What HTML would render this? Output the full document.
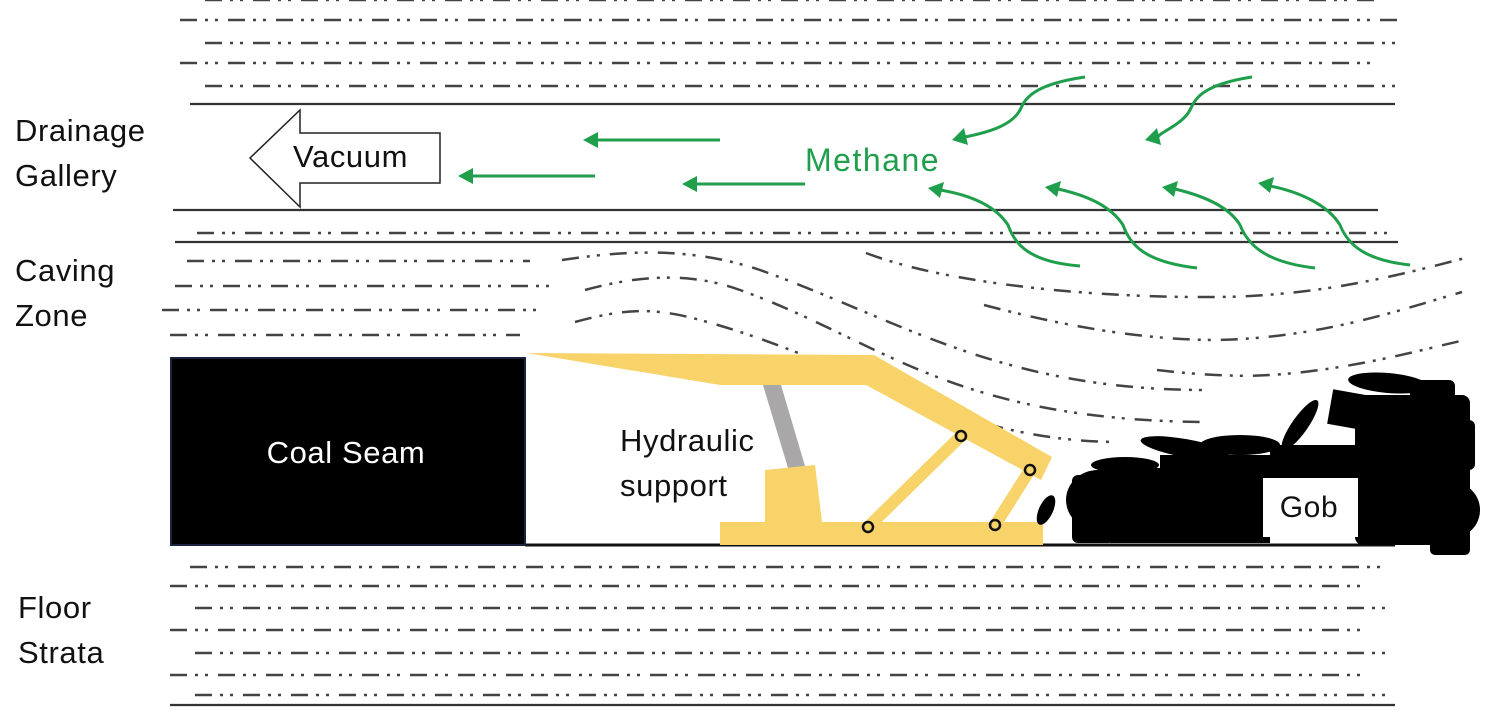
<!DOCTYPE html>
<html><head><meta charset="utf-8"><style>
html,body{margin:0;padding:0;background:#fff;}
svg{display:block;}
text{font-family:"Liberation Sans",sans-serif;letter-spacing:0.6px;}
</style></head><body>
<svg width="1486" height="721" viewBox="0 0 1486 721" xmlns="http://www.w3.org/2000/svg">
<g stroke="#444" stroke-width="2.5" fill="none" stroke-dasharray="17 8 3 7 3 10">
<line x1="205" y1="0" x2="1380" y2="0"/>
<line x1="180" y1="20" x2="1400" y2="20"/>
<line x1="205" y1="43" x2="1400" y2="43"/>
<line x1="180" y1="63" x2="1380" y2="63"/>
<line x1="205" y1="86" x2="1400" y2="86"/>
<line x1="197" y1="233" x2="1397" y2="233"/>
<line x1="187" y1="261" x2="530" y2="261"/>
<line x1="175" y1="286" x2="550" y2="286"/>
<line x1="162" y1="310" x2="545" y2="310"/>
<line x1="170" y1="335" x2="520" y2="335"/>
<line x1="190" y1="567" x2="1390" y2="567"/>
<line x1="170" y1="586" x2="1370" y2="586"/>
<line x1="195" y1="608" x2="1395" y2="608"/>
<line x1="170" y1="630" x2="1370" y2="630"/>
<line x1="195" y1="653" x2="1395" y2="653"/>
<line x1="170" y1="675" x2="1370" y2="675"/>
<line x1="195" y1="695" x2="1395" y2="695"/>
<path d="M562 260 C640 248 700 250 760 270 C900 320 1000 390 1205 390"/>
<path d="M585 290 C640 275 690 272 740 290 C880 340 950 420 1205 422"/>
<path d="M575 322 C620 310 650 306 700 320 C850 360 950 440 1115 442"/>
<path d="M866 253 C950 285 1100 298 1217 297 C1320 296 1400 275 1465 258"/>
<path d="M984 305 C1060 325 1140 340 1217 340 C1320 338 1400 310 1462 292"/>
<path d="M1157 370 C1200 375 1240 377 1270 375 C1350 370 1420 350 1465 340"/>
</g>
<g stroke="#333" stroke-width="2.2">
<line x1="190" y1="104" x2="1395" y2="104"/>
<line x1="173" y1="210" x2="1378" y2="210"/>
<line x1="175" y1="242" x2="1398" y2="242"/>
<line x1="170" y1="705" x2="1395" y2="705"/>
</g>
<line x1="525" y1="545" x2="1395" y2="545" stroke="#111" stroke-width="3"/>
<path d="M250 158 L300 110 L300 133 L440 133 L440 183 L300 183 L300 207 Z" fill="#fff" stroke="#222" stroke-width="1.5"/>
<text x="293" y="167" font-size="31" fill="#111">Vacuum</text>
<g font-size="31" fill="#111">
<text x="15" y="141">Drainage</text>
<text x="15" y="186">Gallery</text>
<text x="15" y="281">Caving</text>
<text x="15" y="326">Zone</text>
<text x="18" y="618">Floor</text>
<text x="18" y="663">Strata</text>
</g>
<rect x="171" y="358" width="354" height="187" fill="#000" stroke="#1b2340" stroke-width="2"/>
<text x="346" y="463" font-size="31" fill="#fff" text-anchor="middle">Coal Seam</text>
<polygon points="763,385 781,385 805,466 788,468" fill="#aaa7a8"/>
<polygon points="527,353 874,355 1052,457 1041,480 866,385 720,385" fill="#f8d36a"/>
<polygon points="765,470 815,465 823,530 765,530" fill="#f8d36a"/>
<rect x="720" y="522" width="323" height="23" fill="#f8d36a"/>
<g stroke="#f8d36a" stroke-width="12" stroke-linecap="round">
<line x1="961" y1="436" x2="868" y2="527"/>
<line x1="1030" y1="470" x2="995" y2="525"/>
</g>
<g fill="#f8d36a" stroke="#111" stroke-width="2.5">
<circle cx="961" cy="436" r="5"/>
<circle cx="1030" cy="470" r="5"/>
<circle cx="868" cy="527" r="5"/>
<circle cx="995" cy="525" r="5"/>
</g>
<text x="620" y="451" font-size="31" fill="#111">Hydraulic</text>
<text x="620" y="496" font-size="31" fill="#111">support</text>
<g fill="#000">
<ellipse cx="1046" cy="510" rx="7" ry="16" transform="rotate(25 1046 510)"/>
<rect x="1072" y="475" width="42" height="68" rx="6"/>
<ellipse cx="1125" cy="465" rx="34" ry="8"/>
<rect x="1110" y="468" width="50" height="75"/>
<ellipse cx="1185" cy="448" rx="45" ry="9" transform="rotate(10 1185 448)"/>
<rect x="1160" y="455" width="110" height="88"/>
<ellipse cx="1240" cy="445" rx="40" ry="10"/>
<ellipse cx="1300" cy="425" rx="30" ry="8" transform="rotate(-55 1300 425)"/>
<rect x="1270" y="445" width="85" height="35"/>
<rect x="1330" y="392" width="35" height="35" transform="rotate(10 1347 409)"/>
<ellipse cx="1388" cy="383" rx="40" ry="10" transform="rotate(5 1388 383)"/>
<rect x="1355" y="395" width="115" height="150" rx="8"/>
<rect x="1410" y="380" width="45" height="40" rx="6"/>
<rect x="1440" y="420" width="35" height="50" rx="6"/>
<ellipse cx="1452" cy="510" rx="28" ry="28"/>
<rect x="1430" y="530" width="40" height="25" rx="5"/>
<ellipse cx="1098" cy="500" rx="32" ry="30"/>
</g>
<rect x="1263" y="478" width="95" height="59" fill="#fff"/>
<text x="1309" y="517" font-size="30" fill="#111" text-anchor="middle">Gob</text>
<g stroke="#1f9e4c" stroke-width="3" fill="none">
<line x1="720" y1="140" x2="596" y2="140"/>
<line x1="595" y1="176" x2="471" y2="176"/>
<line x1="805" y1="184" x2="695" y2="184"/>
<path d="M1085 77 C1030 85 1025 100 1020 110 C1012 125 990 132 965 137"/>
<path d="M1252 77 C1200 85 1195 100 1190 110 C1182 125 1160 132 1158 137"/>
<path d="M1080 266 C1030 262 1015 245 1008 225 C995 205 970 195 940 190"/>
<path d="M1197 268 C1145 262 1130 245 1123 225 C1110 205 1085 195 1058 189"/>
<path d="M1315 268 C1265 262 1248 245 1240 225 C1228 205 1200 195 1175 189"/>
<path d="M1410 265 C1365 260 1348 245 1340 225 C1328 205 1300 192 1270 186"/>
</g>
<g fill="#1f9e4c">
<polygon points="583,140 598,132 598,148"/>
<polygon points="458,176 473,168 473,184"/>
<polygon points="682,184 697,176 697,192"/>
<polygon points="952,140 964,128 968,145"/>
<polygon points="1145,140 1157,128 1161,145"/>
<polygon points="928,188 944,182 940,198"/>
<polygon points="1045,187 1061,181 1057,197"/>
<polygon points="1162,187 1178,181 1174,197"/>
<polygon points="1258,183 1274,177 1270,193"/>
</g>
<text x="805" y="171" font-size="32" fill="#1f9e4c" style="letter-spacing:1.5px">Methane</text>
</svg>
</body></html>
